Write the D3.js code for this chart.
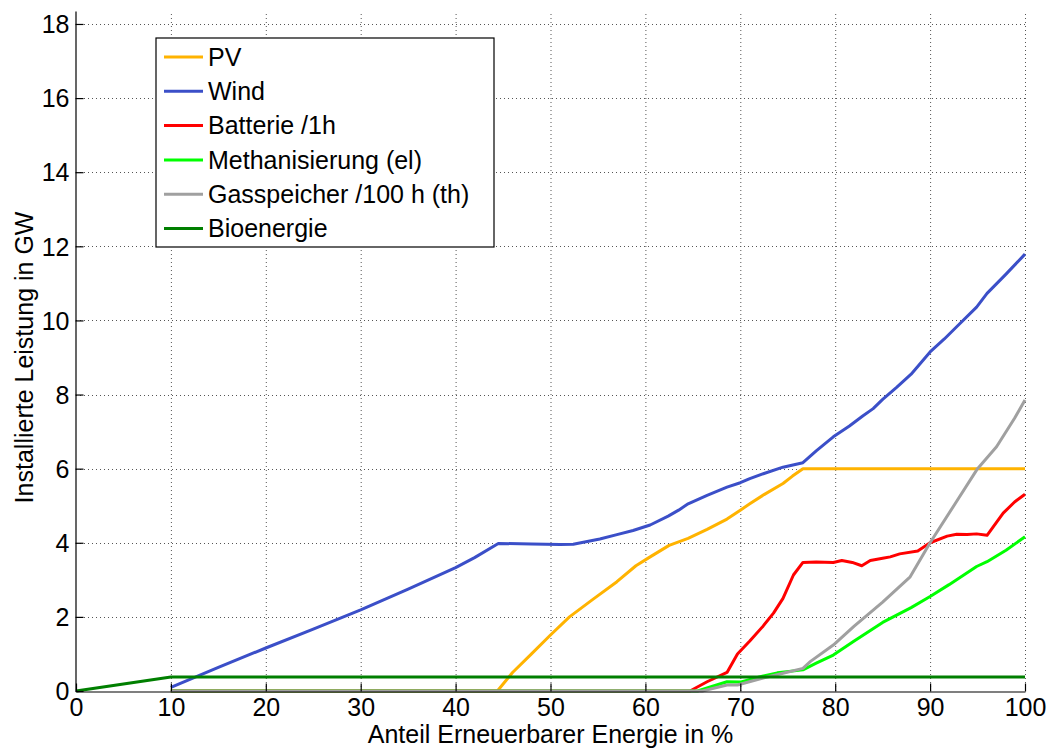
<!DOCTYPE html>
<html>
<head>
    <meta charset="utf-8">
    <script src="https://d3js.org/d3.v7.min.js"></script>
    <style>
        body { margin: 0; background: white; }
    </style>
</head>
<body>
<script>
    const width = 1052
    const height = 753
    const fontFamily = "'Liberation Sans', Arial, sans-serif"
    const fontSize = 25

    const xTicks = [0, 10, 20, 30, 40, 50, 60, 70, 80, 90, 100]
    const yTicks = [0, 2, 4, 6, 8, 10, 12, 14, 16, 18]

    // series: [x in %, GW]
    const pvData = [[10, 0], [44.4, 0], [46, 0.5], [48, 1.0], [50, 1.51], [52, 2.0], [54.5, 2.48], [57, 2.95], [59, 3.38],
        [60.5, 3.62], [62.5, 3.93], [64.5, 4.12], [66.5, 4.36], [68.6, 4.64], [70, 4.88], [71, 5.05], [72.5, 5.3],
        [74.5, 5.6], [75.5, 5.8], [76.6, 6.0], [100, 6.0]]
    const windData = [[10, 0.1], [15, 0.64], [20, 1.16], [25, 1.67], [30, 2.19], [35, 2.75], [40, 3.33], [42, 3.6],
        [44.5, 3.98], [48, 3.97], [51, 3.95], [52.4, 3.96], [55.2, 4.1], [57, 4.22], [58.7, 4.33], [60.5, 4.48],
        [62.4, 4.72], [63.5, 4.88], [64.5, 5.05], [66.5, 5.28], [68.6, 5.5], [70, 5.62], [71, 5.73], [72.5, 5.87],
        [74.5, 6.04], [76.6, 6.16], [78, 6.48], [79.8, 6.86], [81.5, 7.15], [82.9, 7.42], [84, 7.62], [85, 7.87],
        [86.5, 8.2], [88, 8.55], [90, 9.15], [91.5, 9.5], [92.8, 9.83], [94.9, 10.36], [96, 10.73], [98, 11.25], [100, 11.79]]
    const batterieData = [[10, 0], [64.7, 0], [66.5, 0.25], [68.6, 0.5], [69.7, 1.0], [71, 1.35], [72.4, 1.75], [73.5, 2.1],
        [74.5, 2.5], [75.6, 3.13], [76.6, 3.47], [78, 3.48], [79.8, 3.47], [80.7, 3.52], [81.8, 3.47], [82.8, 3.38],
        [83.7, 3.52], [85, 3.58], [85.8, 3.62], [86.8, 3.7], [88.7, 3.78], [90, 4.0], [91.8, 4.18], [92.8, 4.23],
        [93.9, 4.22], [94.9, 4.24], [96, 4.2], [97.7, 4.8], [98.9, 5.1], [100, 5.31]]
    const methanData = [[10, 0], [65.5, 0], [67, 0.12], [68.6, 0.25], [70, 0.24], [72, 0.38], [73.9, 0.49], [76.6, 0.57],
        [78, 0.75], [79.8, 0.97], [82, 1.35], [85, 1.85], [88, 2.25], [90, 2.55], [92, 2.87], [94.9, 3.36], [96, 3.49],
        [98, 3.8], [100, 4.16]]
    const gasData = [[10, 0], [66, 0], [68.6, 0.16], [69.7, 0.16], [72.4, 0.35], [74.5, 0.48], [76.6, 0.61], [77.4, 0.8],
        [79.8, 1.24], [82, 1.75], [85, 2.4], [87.9, 3.08], [90, 4.0], [92.5, 5.0], [95, 6.0], [97, 6.59], [98.9, 7.36], [100, 7.85]]
    const bioData = [[0, 0], [10, 0.38], [100, 0.38]]

    const seriesNames = ["PV", "Wind", "Batterie /1h", "Methanisierung (el)", "Gasspeicher /100 h (th)", "Bioenergie"]
    const seriesColors = ["#ffb300", "#3b4fc8", "#ff0000", "#00ff00", "#a0a0a0", "#007f00"]
    const seriesData = [pvData, windData, batterieData, methanData, gasData, bioData]

    const svg = d3.select("body").append("svg").attr("width", width).attr("height", height)

    const x = d3.scaleLinear().domain([0, 100]).range([76, 1025])
    const y = d3.scaleLinear().domain([0, 18.35]).range([691, 11])

    // dotted grid
    svg.append("g").selectAll("line").data(xTicks.slice(1)).join("line")
        .attr("x1", d => x(d) + 0.5).attr("x2", d => x(d) + 0.5)
        .attr("y1", y.range()[0]).attr("y2", y.range()[1])
        .attr("stroke", "#555").attr("stroke-width", 1).attr("stroke-dasharray", "1,3")
    svg.append("g").selectAll("line").data(yTicks.slice(1)).join("line")
        .attr("x1", x(0)).attr("x2", x(100))
        .attr("y1", d => Math.round(y(d)) + 0.5).attr("y2", d => Math.round(y(d)) + 0.5)
        .attr("stroke", "#555").attr("stroke-width", 1).attr("stroke-dasharray", "1,3")

    // lines
    const line = d3.line().x(d => x(d[0])).y(d => y(d[1]))
    svg.append("g").selectAll("path").data(seriesData).join("path")
        .attr("d", d => line(d))
        .attr("fill", "none")
        .attr("stroke", (d, i) => seriesColors[i])
        .attr("stroke-width", 3)
        .attr("stroke-linejoin", "round")

    // axes (MATLAB style, inward ticks)
    const xAxis = svg.append("g").attr("transform", `translate(0,${y(0) + 0.5})`)
        .call(d3.axisBottom(x).tickValues(xTicks).tickSizeInner(-8).tickSizeOuter(0).tickPadding(7))
    const yAxis = svg.append("g").attr("transform", `translate(${x(0) - 0.5},0)`)
        .call(d3.axisLeft(y).tickValues(yTicks).tickSizeInner(-8).tickSizeOuter(0).tickPadding(6))
    for (const ax of [xAxis, yAxis]) {
        ax.select(".domain").attr("stroke", "black").attr("stroke-width", 1.2)
        ax.selectAll(".tick line").attr("stroke", "black").attr("stroke-width", 1.2)
        ax.selectAll(".tick text").attr("fill", "black")
            .style("font-family", fontFamily).style("font-size", fontSize + "px")
    }
    yAxis.selectAll(".tick text").attr("dy", "0.35em")

    // axis titles
    svg.append("text")
        .attr("x", (x(0) + x(100)) / 2).attr("y", 743)
        .attr("text-anchor", "middle")
        .style("font-family", fontFamily).style("font-size", fontSize + "px")
        .text("Anteil Erneuerbarer Energie in %")
    svg.append("text")
        .attr("transform", `translate(33,${(y(0) + y(18)) / 2}) rotate(-90)`)
        .attr("text-anchor", "middle")
        .style("font-family", fontFamily).style("font-size", fontSize + "px")
        .text("Installierte Leistung in GW")

    // legend
    const legend = svg.append("g").attr("transform", "translate(156,38)")
    legend.append("rect").attr("width", 338).attr("height", 209)
        .attr("fill", "white").attr("stroke", "black").attr("stroke-width", 1.2)
    const rows = legend.selectAll(".row").data(seriesNames).join("g")
        .attr("class", "row")
        .attr("transform", (d, i) => `translate(0,${19 + i * 34.3})`)
    rows.append("line").attr("x1", 8).attr("x2", 47)
        .attr("stroke", (d, i) => seriesColors[i]).attr("stroke-width", 3)
    rows.append("text").attr("x", 52).attr("dy", "0.35em")
        .style("font-family", fontFamily).style("font-size", fontSize + "px")
        .text(d => d)
</script>
</body>
</html>
